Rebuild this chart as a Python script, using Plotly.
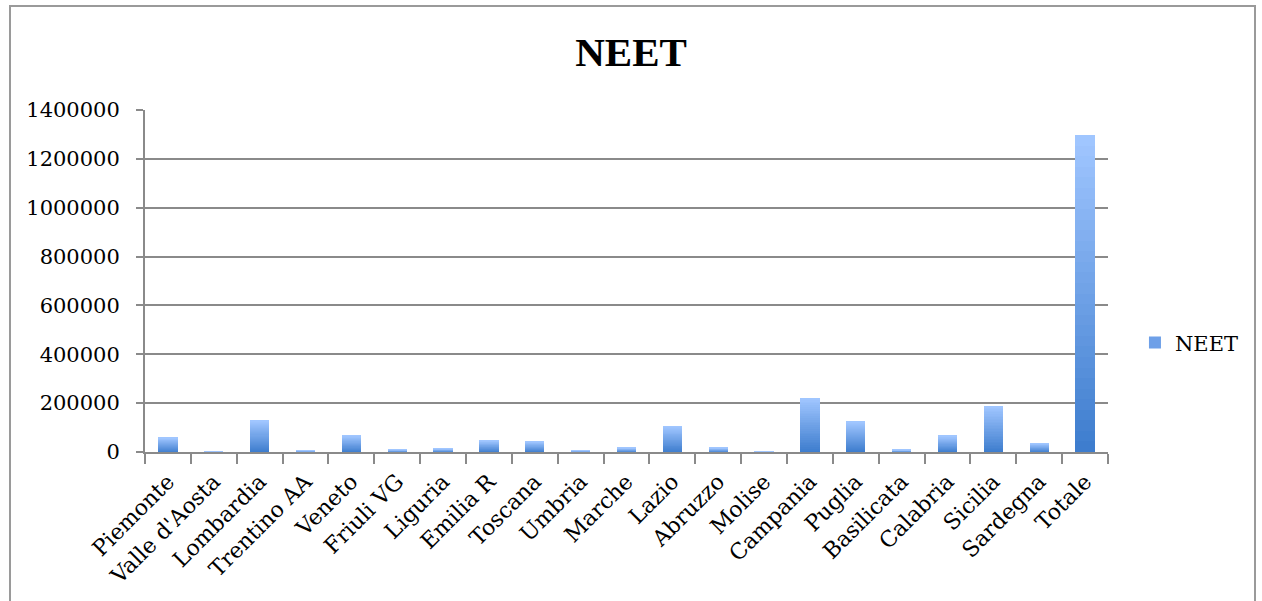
import plotly.graph_objects as go

regions = ["Piemonte", "Valle d'Aosta", "Lombardia", "Trentino AA", "Veneto", "Friuli VG",
           "Liguria", "Emilia R", "Toscana", "Umbria", "Marche", "Lazio", "Abruzzo", "Molise",
           "Campania", "Puglia", "Basilicata", "Calabria", "Sicilia", "Sardegna", "Totale"]
neet = [59000, 1000, 130000, 6000, 68000, 10000, 14000, 48000, 43000, 6000, 17000, 106000,
        17000, 2000, 223000, 123000, 9000, 66000, 189000, 36000, 1297000]
y_ticks = [0, 200000, 400000, 600000, 800000, 1000000, 1200000, 1400000]

FONT = "DejaVu Serif"

# vertical gradient via stacked slices of each bar
N = 30
c0 = (62, 125, 206)   # bottom
c1 = (160, 198, 255)  # top
fig = go.Figure()
for i in range(N):
    t = i / (N - 1)
    col = "rgb(%d,%d,%d)" % tuple(round(a + (b - a) * t) for a, b in zip(c0, c1))
    fig.add_trace(go.Bar(
        x=regions, y=[v / N for v in neet], name="NEET",
        marker=dict(color=col, line=dict(width=0)),
        showlegend=False, hoverinfo="skip"))
fig.add_trace(go.Bar(x=[regions[0]], y=[0], name="NEET",
                     marker=dict(color="rgb(110,160,232)", line=dict(width=0)),
                     showlegend=True))

fig.update_layout(
    width=1262, height=601,
    barmode="stack", bargap=0.58,
    paper_bgcolor="white", plot_bgcolor="white",
    margin=dict(l=145, r=154, t=110, b=149, autoexpand=False),
    font=dict(family=FONT, color="black", size=21),
    title=dict(text="<b>NEET</b>", x=0.5, xanchor="center", y=1 - 52 / 601, yanchor="middle",
               font=dict(family="Liberation Serif", size=41, color="black")),
    legend=dict(x=1.028, y=0.319, xanchor="left", yanchor="middle",
                font=dict(family=FONT, size=21), bgcolor="rgba(0,0,0,0)"),
    xaxis=dict(type="category", tickangle=-45, tickson="boundaries", ticks="outside",
               ticklen=10, tickcolor="#8a8a8a", tickwidth=2, ticklabelstandoff=6,
               showline=True, linecolor="#8a8a8a", linewidth=2, showgrid=False,
               tickfont=dict(family=FONT, size=22), fixedrange=True),
    yaxis=dict(range=[0, 1400000], tickvals=y_ticks, ticktext=[str(v) for v in y_ticks],
               ticks="outside", ticklen=7, tickcolor="#8a8a8a", tickwidth=2,
               ticklabelstandoff=12,
               showline=True, linecolor="#8a8a8a", linewidth=2,
               showgrid=True, gridcolor="#8a8a8a", gridwidth=1.5, zeroline=False,
               tickfont=dict(family=FONT, size=21)),
    shapes=[dict(type="rect", xref="paper", yref="paper",
                 x0=(10 - 145) / 963, x1=(1255 - 145) / 963,
                 y0=-0.6, y1=(452 - 6) / 342,
                 line=dict(color="#9a9a9a", width=2), fillcolor="rgba(0,0,0,0)", layer="below")],
)
fig.write_html("out.html")
